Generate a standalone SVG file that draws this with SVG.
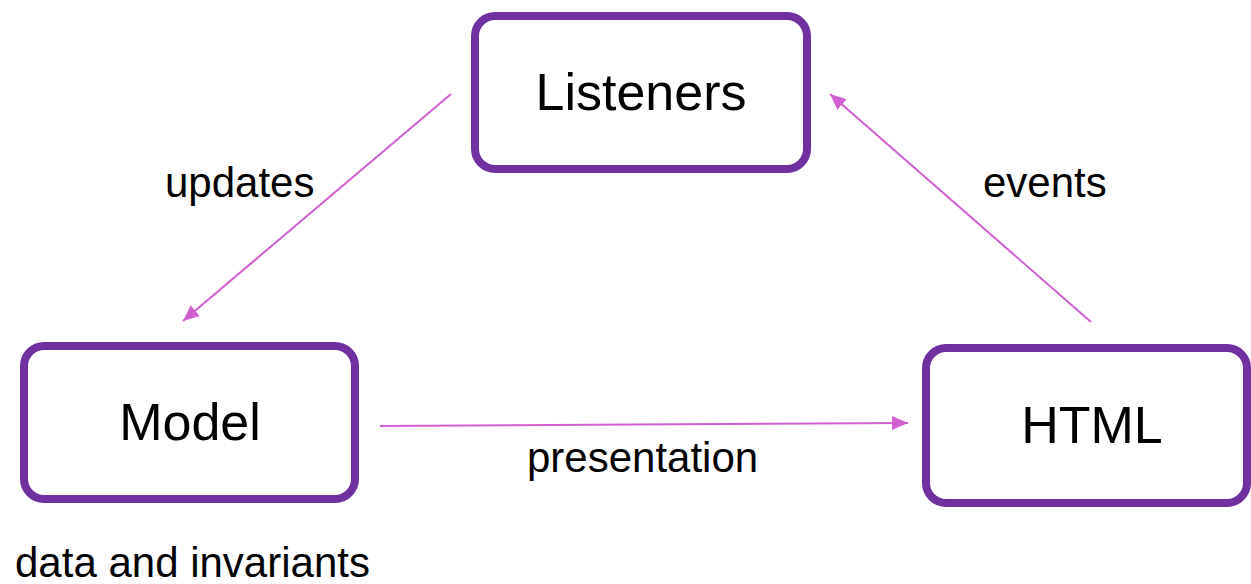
<svg xmlns="http://www.w3.org/2000/svg" width="1251" height="584" viewBox="0 0 1251 584">
<defs>
<style>
.box{fill:#fff;stroke:#7030a0;stroke-width:8}
.lbl{font-family:"Liberation Sans",Arial,sans-serif;fill:#000}
.big{font-size:52px;text-anchor:middle}
.sm{font-size:42px}
.conn{stroke:#d05fd0;stroke-width:2;fill:none}
</style>
<marker id="ah" markerUnits="userSpaceOnUse" markerWidth="18" markerHeight="16" refX="16" refY="7" orient="auto">
<path d="M0,0 L16,7 L0,14 z" fill="#d05fd0"/>
</marker>
</defs>
<rect width="1251" height="584" fill="#fff"/>
<g id="connectors">
<line class="conn" x1="451" y1="94" x2="183" y2="321" marker-end="url(#ah)"/>
<line class="conn" x1="1091" y1="322" x2="830" y2="94" marker-end="url(#ah)"/>
<line class="conn" x1="380" y1="426" x2="908" y2="423" marker-end="url(#ah)"/>
<text class="lbl sm" x="165" y="197">updates</text>
<text class="lbl sm" x="983" y="197">events</text>
<text class="lbl sm" x="527" y="472">presentation</text>
</g>
<g id="listeners">
<rect class="box" x="475" y="16" width="332" height="153" rx="20"/>
<text class="lbl big" x="641" y="110">Listeners</text>
</g>
<g id="model">
<rect class="box" x="24" y="346" width="331" height="153" rx="20"/>
<text class="lbl big" x="190" y="440">Model</text>
<text class="lbl sm" x="15" y="577">data and invariants</text>
</g>
<g id="html">
<rect class="box" x="926" y="348" width="321" height="155" rx="20"/>
<text class="lbl big" x="1092" y="443">HTML</text>
</g>
</svg>
